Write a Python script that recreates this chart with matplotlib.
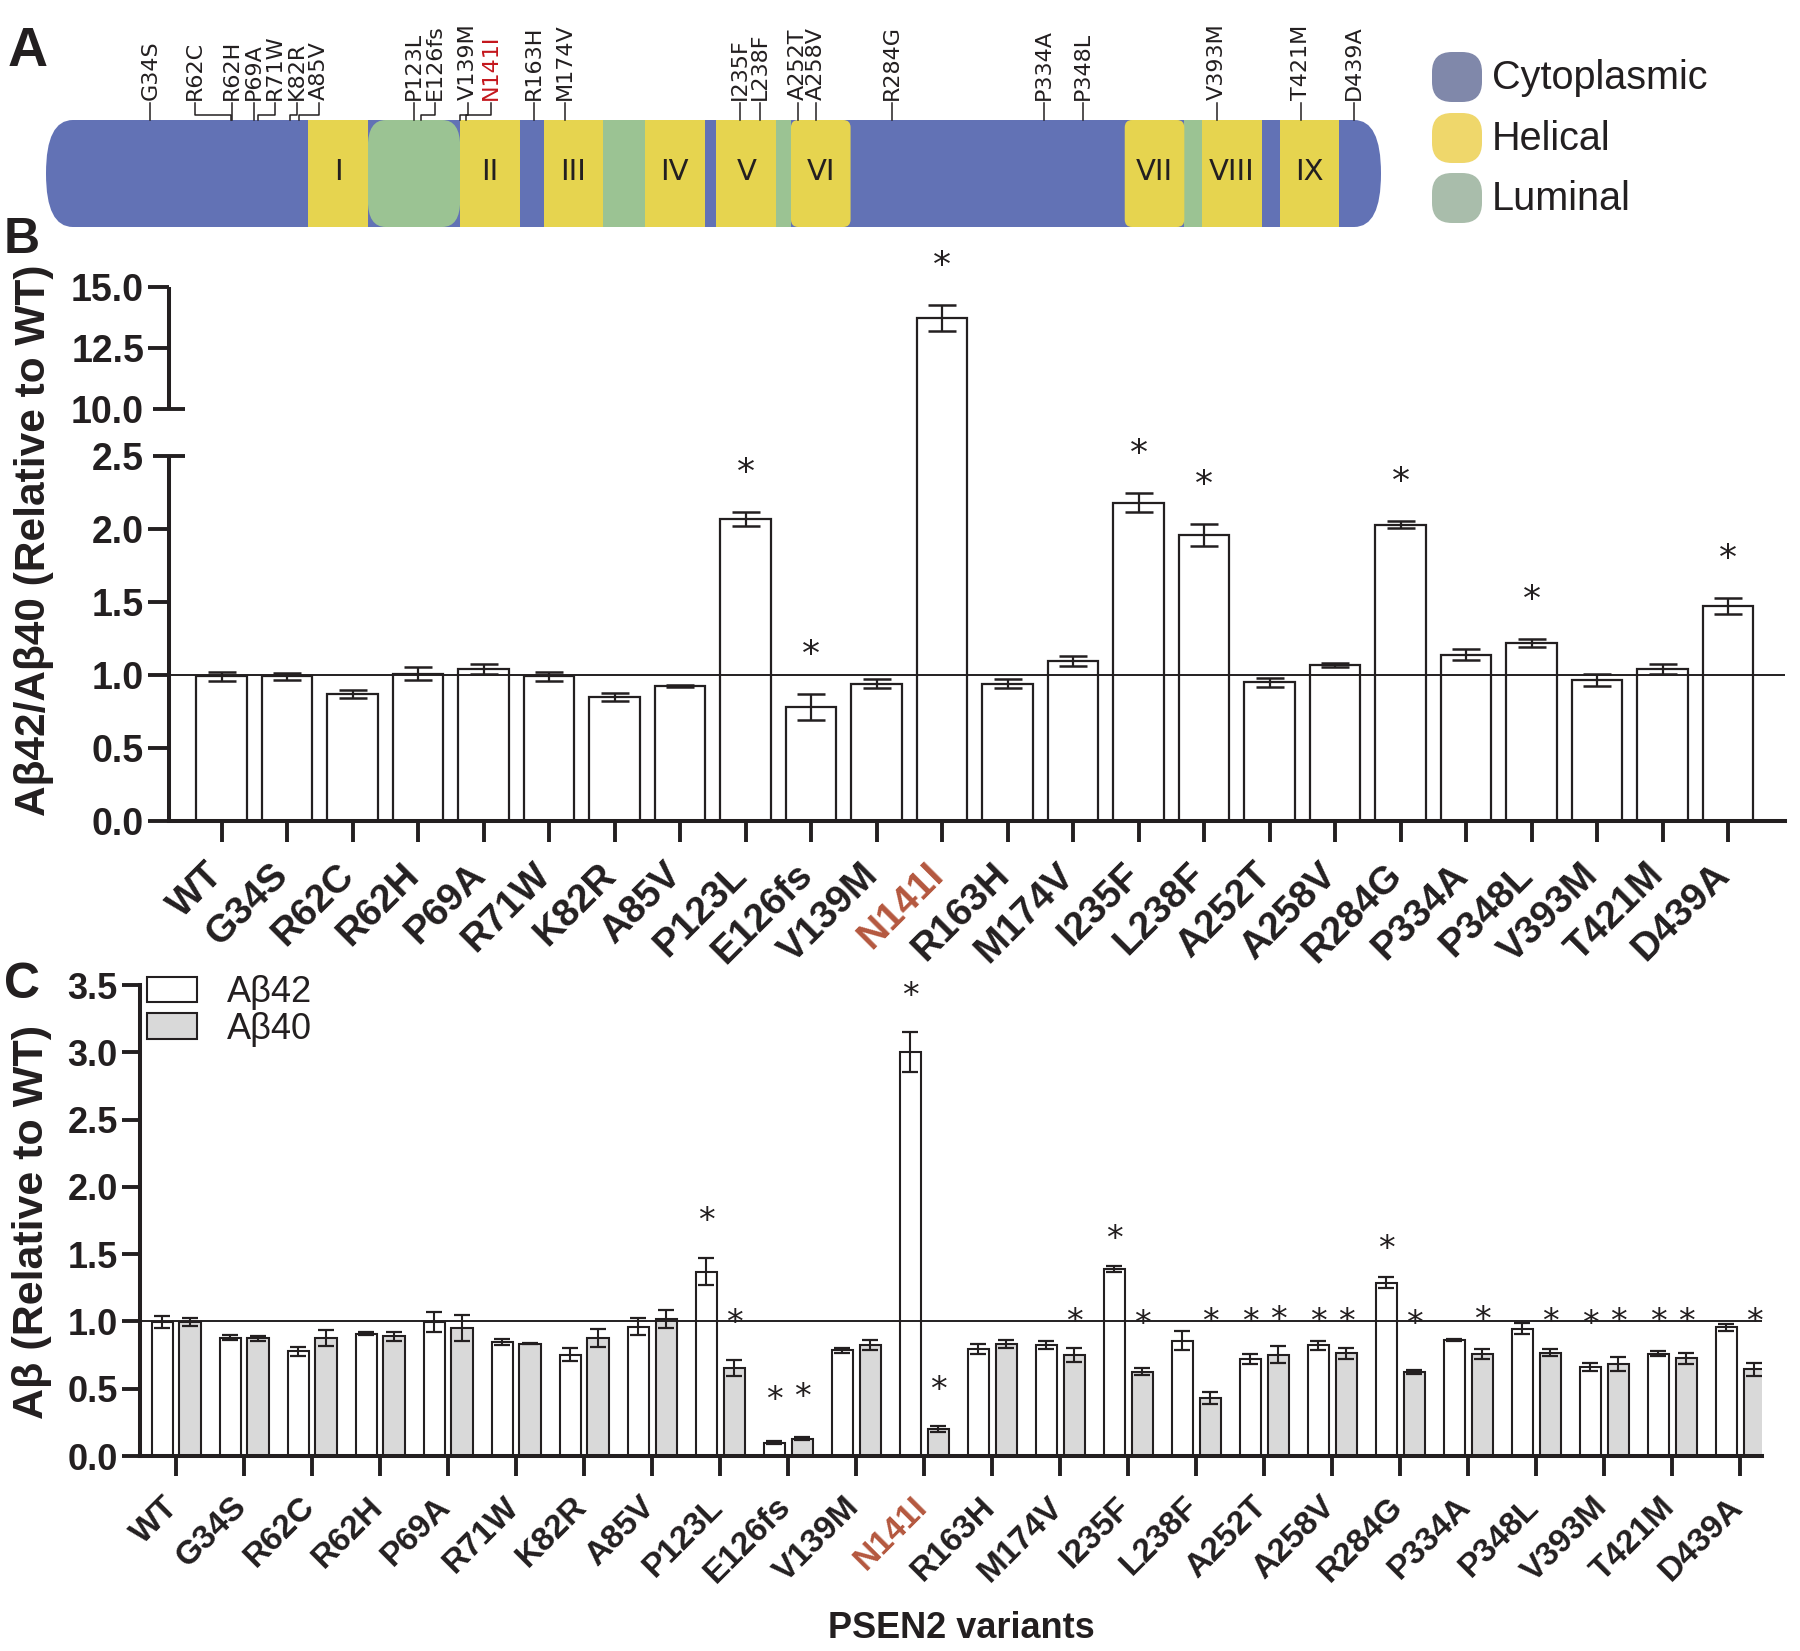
import numpy as np
import matplotlib
matplotlib.use("Agg")
import matplotlib.pyplot as plt
from matplotlib.patches import FancyBboxPatch, Rectangle, Patch
from matplotlib.transforms import ScaledTranslation

plt.rcParams['font.family'] = ['Liberation Sans', 'DejaVu Sans']

INK = '#231f20'
RED_TICK = '#b4573e'
RED_A = '#c4161c'

# ---- data ----
variants = ["WT", "G34S", "R62C", "R62H", "P69A", "R71W", "K82R", "A85V",
            "P123L", "E126fs", "V139M", "N141I", "R163H", "M174V", "I235F",
            "L238F", "A252T", "A258V", "R284G", "P334A", "P348L", "V393M",
            "T421M", "D439A"]
highlight = "N141I"

# panel A: PSEN2 topology (residues)
protein_len = 448
mut_residue = [34, 62, 62, 69, 71, 82, 85, 123, 126, 139, 141, 163, 174,
               235, 238, 252, 258, 284, 334, 348, 393, 421, 439]
tm_names = ["I", "II", "III", "IV", "V", "VI", "VII", "VIII", "IX"]
tm_start = [88, 139, 167, 201, 225, 250, 362, 388, 414]
tm_end = [108, 159, 187, 221, 245, 270, 382, 408, 434]
lum_start = [108, 187, 245, 382]
lum_end = [139, 201, 250, 388]

# panel B: Ab42/Ab40 ratio relative to WT
ratio_mean = [0.99, 0.99, 0.87, 1.01, 1.04, 0.99, 0.85, 0.925, 2.07, 0.78,
              0.94, 13.74, 0.94, 1.095, 2.18, 1.96, 0.95, 1.07, 2.03, 1.14,
              1.22, 0.965, 1.04, 1.475]
ratio_sem = [0.03, 0.025, 0.03, 0.045, 0.035, 0.03, 0.025, 0.01, 0.05, 0.09,
             0.03, 0.54, 0.03, 0.035, 0.065, 0.075, 0.03, 0.013, 0.025, 0.04,
             0.025, 0.04, 0.035, 0.055]
ratio_sig = ["P123L", "E126fs", "N141I", "I235F", "L238F", "R284G", "P348L", "D439A"]

# panel C: Ab42 and Ab40 relative to WT
ab42_mean = [0.995, 0.88, 0.778, 0.91, 0.995, 0.847, 0.753, 0.962, 1.371, 0.1,
             0.784, 3.0, 0.797, 0.827, 1.388, 0.857, 0.722, 0.822, 1.286, 0.865,
             0.945, 0.662, 0.76, 0.957]
ab42_sem = [0.045, 0.018, 0.034, 0.01, 0.074, 0.024, 0.047, 0.066, 0.1, 0.012,
            0.019, 0.15, 0.037, 0.031, 0.024, 0.073, 0.038, 0.033, 0.041, 0.007,
            0.041, 0.03, 0.018, 0.026]
ab40_mean = [0.995, 0.875, 0.878, 0.89, 0.95, 0.834, 0.877, 1.02, 0.652, 0.13,
             0.825, 0.2, 0.832, 0.749, 0.627, 0.429, 0.754, 0.762, 0.622, 0.757,
             0.769, 0.682, 0.727, 0.644]
ab40_sem = [0.03, 0.018, 0.057, 0.033, 0.097, 0.005, 0.065, 0.068, 0.061, 0.008,
            0.036, 0.02, 0.028, 0.05, 0.026, 0.043, 0.063, 0.04, 0.015, 0.035,
            0.025, 0.05, 0.04, 0.046]
# asterisk heights (y of the star)
ab42_star = {"P123L": 1.82, "E126fs": 0.49, "N141I": 3.49, "I235F": 1.68,
             "A252T": 1.07, "A258V": 1.07, "R284G": 1.61, "V393M": 1.05,
             "T421M": 1.07}
ab40_star = {"P123L": 1.06, "E126fs": 0.51, "N141I": 0.56, "M174V": 1.07,
             "I235F": 1.05, "L238F": 1.07, "A252T": 1.08, "A258V": 1.07,
             "R284G": 1.05, "P334A": 1.08, "P348L": 1.07, "V393M": 1.07,
             "T421M": 1.07, "D439A": 1.07}

# ---- layout ----
W, H = 1800, 1651
fig = plt.figure(figsize=(W / 100, H / 100), dpi=100)


def fbox(x0, y0, x1, y1):
    # pixel box (from top-left) -> figure fraction
    return [x0 / W, 1 - y1 / H, (x1 - x0) / W, (y1 - y0) / H]


def star(ax, x, y, size, dy_pt=0.0):
    off = ScaledTranslation(0, -0.585 * size / 72 + dy_pt / 72, fig.dpi_scale_trans)
    ax.text(x, y, '*', ha='center', va='baseline', fontsize=size,
            family='DejaVu Sans', color=INK, transform=ax.transData + off,
            clip_on=False, zorder=6)


def style_xlabels(ax, size, dx_px):
    shift = ScaledTranslation(dx_px / 100, 0, fig.dpi_scale_trans)
    for lbl in ax.get_xticklabels():
        lbl.set_fontsize(size)
        lbl.set_fontweight('bold')
        lbl.set_color(RED_TICK if lbl.get_text() == highlight else INK)
        lbl.set_transform(lbl.get_transform() + shift)


# ===== Panel A =====
ax_a = fig.add_axes(fbox(46, 0, 1381, 250))
ax_a.set_xlim(0, protein_len)
ax_a.set_ylim(250, 0)
ax_a.axis('off')

blue, yellow, green = '#6272b5', '#e6d44f', '#9bc393'
top, bot = 120, 227
hh = bot - top
ax_a.add_patch(FancyBboxPatch((0, top), protein_len, hh,
                              boxstyle='round,pad=0,rounding_size=9',
                              mutation_aspect=5.9, fc=blue, ec='none'))
for s, e in zip(lum_start, lum_end):
    if s == lum_start[0]:
        ax_a.add_patch(FancyBboxPatch((s, top), e - s, hh,
                                      boxstyle='round,pad=0,rounding_size=6',
                                      mutation_aspect=4.5, fc=green, ec='none'))
    else:
        ax_a.add_patch(Rectangle((s, top), e - s, hh, fc=green, ec='none'))
for name, s, e in zip(tm_names, tm_start, tm_end):
    if name in ("VI", "VII"):
        ax_a.add_patch(FancyBboxPatch((s, top), e - s, hh,
                                      boxstyle='round,pad=0,rounding_size=2.5',
                                      mutation_aspect=3.0, fc=yellow, ec='none'))
    else:
        ax_a.add_patch(Rectangle((s, top), e - s, hh, fc=yellow, ec='none'))
    ax_a.text((s + e) / 2, 172, name, ha='center', va='center', fontsize=21,
              family='DejaVu Sans', color=INK)

label_x = [35, 50, 62.4, 69.8, 76.8, 84.2, 91.6, 123.4, 130.4, 141.6, 149.3,
           163.8, 174.2, 233.0, 239.6, 252.3, 258.5, 284, 334.9, 348, 393, 421, 439]
for name, pos, lx in zip(variants[1:], mut_residue, label_x):
    col = RED_A if name == highlight else INK
    ax_a.text(lx, 100, name, rotation=90, ha='center', va='bottom', fontsize=16,
              family='DejaVu Sans', color=col)
    if abs(lx - pos) > 2:
        ax_a.plot([lx, lx, pos, pos], [103, 115, 115, top], color=INK, lw=1.1)
    else:
        ax_a.plot([lx, lx], [103, top], color=INK, lw=1.1)

ax_leg = fig.add_axes(fbox(1420, 0, 1800, 250))
ax_leg.set_xlim(1420, 1800)
ax_leg.set_ylim(250, 0)
ax_leg.axis('off')
for lab, col, yc in [("Cytoplasmic", '#8088aa', 77), ("Helical", '#efd76b', 138),
                     ("Luminal", '#a9bdab', 198)]:
    ax_leg.add_patch(FancyBboxPatch((1432, yc - 25), 50, 50,
                                    boxstyle='round,pad=0,rounding_size=20',
                                    fc=col, ec='none'))
    ax_leg.text(1492, yc + 1, lab, ha='left', va='center', fontsize=28.5, color=INK)

# ===== Panel B =====
GAP, UP = 0.322, 0.1669


def fwd(v):
    v = np.asarray(v, dtype=float)
    return np.where(v <= 2.5, v,
                    np.where(v <= 10, 2.5 + (v - 2.5) * GAP / 7.5,
                             2.5 + GAP + (v - 10) * UP))


def inv(u):
    u = np.asarray(u, dtype=float)
    return np.where(u <= 2.5, u,
                    np.where(u <= 2.5 + GAP, 2.5 + (u - 2.5) * 7.5 / GAP,
                             10 + (u - 2.5 - GAP) / UP))


x = np.arange(len(variants))
ax_b = fig.add_axes(fbox(169, 287.2, 1785, 821))
ax_b.set_yscale('function', functions=(fwd, inv))
ax_b.bar(x, ratio_mean, width=0.77, color='white', edgecolor=INK, linewidth=1.6, zorder=2)
ax_b.errorbar(x, ratio_mean, yerr=ratio_sem, fmt='none', ecolor=INK, elinewidth=1.6,
              capsize=10, capthick=1.8, zorder=3)
ax_b.axhline(1.0, color=INK, lw=1.4, zorder=4)
ax_b.set_xlim(-0.803, 23.87)
ax_b.set_ylim(0, 15)
for sp in ('top', 'right', 'left'):
    ax_b.spines[sp].set_visible(False)
ax_b.spines['bottom'].set_linewidth(2.9)
ax_b.spines['bottom'].set_color(INK)
for y0, y1 in [(0, 2.5), (10, 15)]:
    ax_b.plot([0, 0], [y0, y1], transform=ax_b.get_yaxis_transform(), color=INK,
              lw=2.9, clip_on=False, solid_capstyle='butt', zorder=5)
ax_b.set_yticks([0, 0.5, 1, 1.5, 2, 12.5, 15])
ax_b.set_yticklabels(['0.0', '0.5', '1.0', '1.5', '2.0', '12.5', '15.0'])
ax_b.set_yticks([2.5, 10], minor=True)
ax_b.set_yticklabels(['2.5', '10.0'], minor=True)
ax_b.tick_params(axis='y', which='major', length=15, width=2.8, direction='out',
                 labelsize=27, pad=3, color=INK)
ax_b.tick_params(axis='y', which='minor', length=23, width=2.8, direction='inout',
                 labelsize=27, pad=6.5, color=INK)
for lbl in ax_b.get_yticklabels(which='both'):
    lbl.set_fontweight('bold')
    lbl.set_color(INK)
ax_b.set_xticks(x)
ax_b.set_xticklabels(variants, rotation=45, ha='right', va='baseline',
                     rotation_mode='anchor')
ax_b.tick_params(axis='x', length=15, width=2.8, direction='out', pad=25, color=INK)
style_xlabels(ax_b, 28, 3)
for i, name in enumerate(variants):
    if name in ratio_sig:
        star(ax_b, i, ratio_mean[i] + ratio_sem[i], 26, dy_pt=36)

# ===== Panel C =====
ax_c = fig.add_axes(fbox(140, 985, 1762, 1456))
off = 0.205
ax_c.bar(x - off, ab42_mean, width=0.31, color='white', edgecolor=INK, linewidth=1.5,
         zorder=2)
ax_c.bar(x + off, ab40_mean, width=0.31, color='#d9d9d9', edgecolor=INK, linewidth=1.5,
         zorder=2)
ax_c.errorbar(x - off, ab42_mean, yerr=ab42_sem, fmt='none', ecolor=INK, elinewidth=1.5,
              capsize=5.8, capthick=1.6, zorder=3)
ax_c.errorbar(x + off, ab40_mean, yerr=ab40_sem, fmt='none', ecolor=INK, elinewidth=1.5,
              capsize=5.8, capthick=1.6, zorder=3)
ax_c.axhline(1.0, color=INK, lw=1.4, zorder=4)
ax_c.set_xlim(-0.53, 23.32)
ax_c.set_ylim(0, 3.5)
for sp in ('top', 'right'):
    ax_c.spines[sp].set_visible(False)
for sp in ('left', 'bottom'):
    ax_c.spines[sp].set_linewidth(2.9)
    ax_c.spines[sp].set_color(INK)
ax_c.set_yticks(np.arange(0, 3.51, 0.5))
ax_c.set_yticklabels([f'{v:.1f}' for v in np.arange(0, 3.51, 0.5)])
ax_c.tick_params(axis='y', length=13, width=2.8, labelsize=26, pad=3, color=INK)
for lbl in ax_c.get_yticklabels():
    lbl.set_fontweight('bold')
    lbl.set_color(INK)
ax_c.set_xticks(x)
ax_c.set_xticklabels(variants, rotation=45, ha='right', va='baseline',
                     rotation_mode='anchor')
ax_c.tick_params(axis='x', length=14.5, width=2.8, pad=23, color=INK)
style_xlabels(ax_c, 24, 4)
for i, name in enumerate(variants):
    if name in ab42_star:
        star(ax_c, i - off, ab42_star[name], 24)
    if name in ab40_star:
        star(ax_c, i + off, ab40_star[name], 24)

ax_c.legend(handles=[Patch(fc='white', ec=INK, lw=1.5, label='A\u03b242'),
                     Patch(fc='#d9d9d9', ec=INK, lw=1.5, label='A\u03b240')],
            loc='upper left', bbox_to_anchor=(147 / W, 1 - 975 / H),
            bbox_transform=fig.transFigure, frameon=False, fontsize=26,
            handlelength=1.38, handleheight=0.72, handletextpad=0.83,
            labelspacing=0.05, borderpad=0, borderaxespad=0, labelcolor=INK)

# ---- text ----
fig.text(34 / W, 1 - 540 / H, 'A\u03b242/A\u03b240 (Relative to WT)', rotation=90,
         ha='center', va='center', fontsize=30.5, fontweight='bold', color=INK)
fig.text(32 / W, 1 - 1222 / H, 'A\u03b2 (Relative to WT)', rotation=90,
         ha='center', va='center', fontsize=31, fontweight='bold', color=INK)
fig.text(961 / W, 1 - 1628 / H, 'PSEN2 variants', ha='center', va='center',
         fontsize=26, fontweight='bold', color=INK)
fig.text(8 / W, 1 - 52 / H, 'A', ha='left', va='center', fontsize=40,
         fontweight='bold', color=INK)
fig.text(4 / W, 1 - 240 / H, 'B', ha='left', va='center', fontsize=36,
         fontweight='bold', color=INK)
fig.text(4 / W, 1 - 985 / H, 'C', ha='left', va='center', fontsize=36,
         fontweight='bold', color=INK)

fig.savefig('out.png', dpi=100)
